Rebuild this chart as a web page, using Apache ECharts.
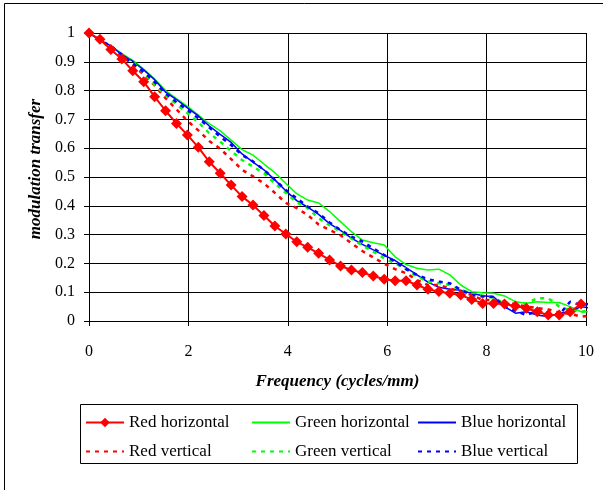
<!DOCTYPE html>
<html>
<head>
<meta charset="utf-8">
<script src="https://cdn.jsdelivr.net/npm/echarts@6/dist/echarts.min.js"></script>
<style>
  html, body { margin: 0; padding: 0; background: #fff; }
  #chart { width: 603px; height: 490px; }
</style>
</head>
<body>
<div id="chart"></div>
<script>
// spatial frequency, cycles/mm
var freq = [0, 0.22, 0.44, 0.66, 0.88, 1.1, 1.32, 1.54, 1.76, 1.98,
	2.2, 2.42, 2.64, 2.86, 3.08, 3.3, 3.52, 3.74, 3.96, 4.18,
	4.4, 4.62, 4.84, 5.06, 5.28, 5.5, 5.72, 5.94, 6.16, 6.38,
	6.6, 6.82, 7.04, 7.26, 7.48, 7.7, 7.92, 8.14, 8.36, 8.58,
	8.8, 9.02, 9.24, 9.46, 9.68, 9.9, 10.12];

var redH = [1.0, 0.978, 0.943, 0.91, 0.869, 0.831, 0.779, 0.73, 0.686, 0.646,
	0.603, 0.553, 0.513, 0.472, 0.432, 0.403, 0.366, 0.33, 0.302, 0.275,
	0.256, 0.235, 0.212, 0.191, 0.177, 0.168, 0.156, 0.145, 0.14, 0.14,
	0.125, 0.11, 0.102, 0.096, 0.09, 0.075, 0.061, 0.061, 0.059, 0.052,
	0.044, 0.032, 0.021, 0.021, 0.032, 0.059];

var greenH = [1.0, 0.975, 0.955, 0.928, 0.905, 0.875, 0.84, 0.8, 0.772, 0.745,
	0.715, 0.685, 0.66, 0.628, 0.595, 0.576, 0.545, 0.515, 0.478, 0.442,
	0.42, 0.41, 0.38, 0.345, 0.31, 0.281, 0.272, 0.264, 0.223, 0.196,
	0.183, 0.177, 0.18, 0.16, 0.125, 0.102, 0.098, 0.096, 0.087, 0.067,
	0.062, 0.067, 0.064, 0.064, 0.05, 0.032, 0.032];

var blueH = [1.0, 0.975, 0.955, 0.925, 0.902, 0.872, 0.838, 0.795, 0.769, 0.74,
	0.712, 0.677, 0.648, 0.62, 0.58, 0.552, 0.525, 0.49, 0.452, 0.418,
	0.395, 0.37, 0.338, 0.315, 0.288, 0.266, 0.247, 0.228, 0.21, 0.185,
	0.16, 0.135, 0.117, 0.11, 0.107, 0.096, 0.088, 0.084, 0.05, 0.027,
	0.032, 0.021, 0.015, 0.027, 0.032, 0.05, 0.044];

var redV = [1.0, 0.975, 0.95, 0.92, 0.89, 0.855, 0.818, 0.774, 0.735, 0.695,
	0.662, 0.625, 0.598, 0.562, 0.525, 0.502, 0.478, 0.445, 0.41, 0.392,
	0.368, 0.335, 0.316, 0.298, 0.27, 0.243, 0.221, 0.199, 0.18, 0.166,
	0.142, 0.125, 0.125, 0.113, 0.102, 0.09, 0.073, 0.073, 0.065, 0.058,
	0.05, 0.045, 0.04, 0.03, 0.025, 0.015, 0.02];

var greenV = [1.0, 0.975, 0.952, 0.925, 0.9, 0.862, 0.82, 0.785, 0.752, 0.722,
	0.69, 0.652, 0.623, 0.59, 0.559, 0.536, 0.513, 0.478, 0.445, 0.412,
	0.392, 0.357, 0.333, 0.31, 0.287, 0.262, 0.241, 0.218, 0.2, 0.18,
	0.154, 0.137, 0.131, 0.125, 0.108, 0.096, 0.088, 0.08, 0.061, 0.056,
	0.061, 0.079, 0.079, 0.05, 0.038, 0.032, 0.038];

var blueV = [1.0, 0.975, 0.955, 0.925, 0.895, 0.865, 0.83, 0.79, 0.76, 0.733,
	0.704, 0.672, 0.64, 0.611, 0.576, 0.554, 0.525, 0.49, 0.455, 0.426,
	0.397, 0.374, 0.342, 0.316, 0.293, 0.276, 0.252, 0.229, 0.206, 0.18,
	0.16, 0.145, 0.137, 0.131, 0.108, 0.09, 0.085, 0.084, 0.05, 0.035,
	0.021, 0.035, 0.03, 0.021, 0.067, 0.055, 0.061];

var xTicks = [0, 2, 4, 6, 8, 10];

var FONT = '"Liberation Serif", "Times New Roman", serif';

//x,y pairs for a value axis
function pairs(ys){
	return ys.map(function(y, i){
		return [freq[i], y];
	});
}

function solid(name, color, ys){
	return {
		'name': name, 'type': 'line', 'data': pairs(ys),
		'showSymbol': false, 'symbol': 'none', 'clip': false,
		'lineStyle': {'color': color, 'width': 1.5},
		'itemStyle': {'color': color}
	};
}

function dotted(name, color, ys){
	return {
		'name': name, 'type': 'line', 'data': pairs(ys),
		'showSymbol': false, 'symbol': 'none', 'clip': false,
		'lineStyle': {'color': color, 'width': 2.5, 'type': [4, 5]},
		'itemStyle': {'color': color}
	};
}

//legend item, hide the symbol for the plain lines
function item(name, marker){
	if(marker){
		return {'name': name};
	}
	return {'name': name, 'itemStyle': {'opacity': 0}};
}

function legendCol(items, left){
	return {
		'data': items, 'orient': 'vertical', 'left': left, 'top': 414,
		'padding': 0,
		'itemWidth': 38, 'itemHeight': 12, 'itemGap': 12,
		'textStyle': {'fontFamily': FONT, 'fontSize': 17, 'color': '#000'},
		'selectedMode': false
	};
}

var chart = echarts.init(document.getElementById('chart'));

chart.setOption({
	'animation': false,
	'backgroundColor': '#fff',
	'textStyle': {'fontFamily': FONT},
	'grid': {'left': 89, 'top': 33, 'right': 17, 'bottom': 169},
	'xAxis': {
		'type': 'value', 'min': xTicks[0], 'max': xTicks[xTicks.length - 1], 'interval': 2,
		'name': 'Frequency (cycles/mm)', 'nameLocation': 'middle', 'nameGap': 52,
		'nameTextStyle': {'fontFamily': FONT, 'fontSize': 17, 'fontWeight': 'bold', 'fontStyle': 'italic', 'color': '#000'},
		'axisLine': {'lineStyle': {'color': '#000', 'width': 1}},
		'axisTick': {'show': true, 'length': 5, 'lineStyle': {'color': '#000'}},
		'axisLabel': {'fontFamily': FONT, 'fontSize': 16, 'color': '#000', 'margin': 23},
		'splitLine': {'show': true, 'lineStyle': {'color': '#000', 'width': 1}}
	},
	'yAxis': {
		'type': 'value', 'min': 0, 'max': 1, 'interval': 0.1,
		'name': 'modulation transfer', 'nameLocation': 'middle', 'nameGap': 45,
		'nameTextStyle': {'fontFamily': FONT, 'fontSize': 17, 'fontWeight': 'bold', 'fontStyle': 'italic', 'color': '#000',
			'padding': [0, 0, 0, 16]},
		'axisLine': {'show': true, 'lineStyle': {'color': '#000', 'width': 1}},
		'axisTick': {'show': true, 'length': 5, 'lineStyle': {'color': '#000'}},
		'axisLabel': {'fontFamily': FONT, 'fontSize': 16, 'color': '#000', 'margin': 14},
		'splitLine': {'show': true, 'lineStyle': {'color': '#000', 'width': 1}}
	},
	'legend': [
		legendCol([item('Red horizontal', true), item('Red vertical')], 85),
		legendCol([item('Green horizontal'), item('Green vertical')], 251),
		legendCol([item('Blue horizontal'), item('Blue vertical')], 417)
	],
	'graphic': [
		//outer frame, only top and left edges are in view
		{'type': 'rect', 'shape': {'x': 4.5, 'y': 3.5, 'width': 700, 'height': 600},
			'style': {'fill': 'none', 'stroke': '#000', 'lineWidth': 1}, 'silent': true},
		//legend box
		{'type': 'rect', 'shape': {'x': 80.5, 'y': 404.5, 'width': 497, 'height': 59},
			'style': {'fill': 'none', 'stroke': '#000', 'lineWidth': 1}, 'silent': true}
	],
	'series': [
		solid('Green horizontal', '#00ff00', greenH),
		solid('Blue horizontal', '#0000ff', blueH),
		dotted('Red vertical', '#ff0000', redV),
		dotted('Green vertical', '#00ff00', greenV),
		dotted('Blue vertical', '#0000ff', blueV),
		{
			'name': 'Red horizontal', 'type': 'line', 'data': pairs(redH),
			'symbol': 'diamond', 'symbolSize': 11, 'showSymbol': true, 'clip': false,
			'lineStyle': {'color': '#ff0000', 'width': 2},
			'itemStyle': {'color': '#ff0000'}
		}
	]
});
</script>
</body>
</html>
